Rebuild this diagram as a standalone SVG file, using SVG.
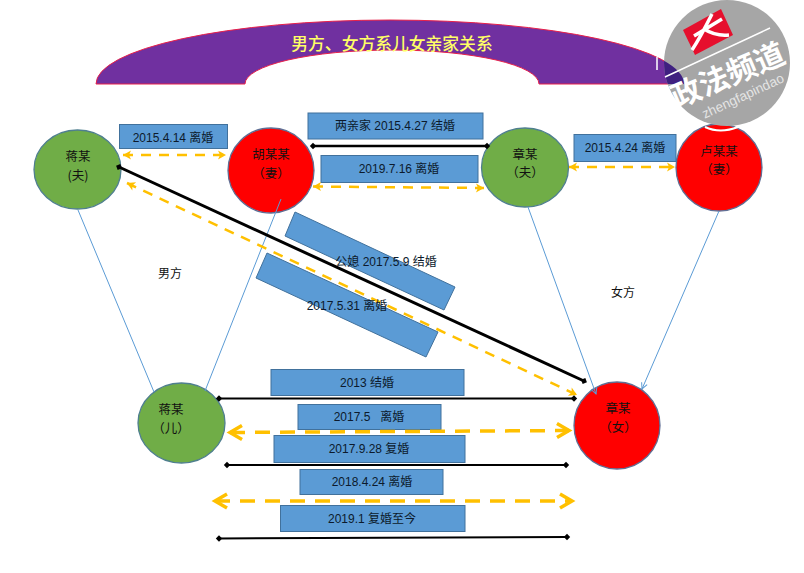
<svg xmlns="http://www.w3.org/2000/svg" width="804" height="573" viewBox="0 0 804 573">
<style>
text{font-family:"Liberation Sans","Noto Sans CJK SC",sans-serif;font-size:12px;fill:#0c1a2c;text-anchor:middle;dominant-baseline:central}
.cn{font-family:"Noto Sans CJK SC",sans-serif;font-size:12.500px;fill:#111}
.box{fill:#5b9bd5;stroke:#41719c;stroke-width:1}
.g{fill:#70ad47;stroke:#4f7f8f;stroke-width:1.3}
.r{fill:#ff0000;stroke:#5f6f95;stroke-width:1.3}
.k{stroke:#000;fill:none;marker-start:url(#dia);marker-end:url(#dia)}
.y{stroke:#ffc000;fill:none;stroke-width:2.500;stroke-dasharray:10 8;marker-start:url(#tri);marker-end:url(#tri)}
.o{stroke:#ffc000;fill:none;stroke-width:3.500;stroke-dasharray:15 10;marker-start:url(#open);marker-end:url(#open)}
.b{stroke:#5b9bd5;fill:none;stroke-width:1}
</style>
<defs>
<marker id="dia" viewBox="-5 -5 10 10" markerUnits="userSpaceOnUse" markerWidth="8" markerHeight="8" orient="auto"><path d="M-4 0 0-4 4 0 0 4Z" fill="#000"/></marker>
<marker id="tri" viewBox="-10 -6 12 12" markerUnits="userSpaceOnUse" markerWidth="12" markerHeight="12" orient="auto-start-reverse"><path d="M0 0-8-4.500-6 0-8 4.500Z" fill="#ffc000"/></marker>
<marker id="open" viewBox="-16 -10 20 20" markerUnits="userSpaceOnUse" markerWidth="20" markerHeight="20" orient="auto-start-reverse"><path d="M-12-7 0 0-12 7" fill="none" stroke="#ffc000" stroke-width="3.500"/></marker>
<marker id="ba" viewBox="-8 -5 10 10" markerUnits="userSpaceOnUse" markerWidth="10" markerHeight="10" orient="auto"><path d="M-6-3 0 0-6 3" fill="none" stroke="#5b9bd5" stroke-width="1"/></marker>
<clipPath id="lc"><circle cx="727" cy="63" r="63"/></clipPath>
</defs>

<g id="title">
<path id="arc" d="M96 84A294 64 0 0 1 684 84H539A147 34 0 0 0 245 84Z" fill="#7030a0" stroke="#e8204a" stroke-width="1"/>
<text x="392" y="43" style="font-family:'Noto Sans CJK SC',sans-serif;font-size:16.800px;font-weight:500;fill:#ffff66">男方、女方系儿女亲家关系</text>
</g>

<g id="node-jiang-fu"><ellipse class="g" cx="77.500" cy="169.500" rx="43.500" ry="39.500"/><text class="cn" x="78" y="155">蒋某</text><text class="cn" x="78" y="174">(夫)</text></g>
<g id="node-hu"><ellipse class="r" cx="271" cy="170.500" rx="43" ry="42.500"/><text class="cn" x="271" y="153">胡某某</text><text class="cn" x="271" y="172">（妻）</text></g>
<g id="node-zhang-fu"><ellipse class="g" cx="525" cy="167.500" rx="43.500" ry="39.500"/><text class="cn" x="525" y="153">章某</text><text class="cn" x="525" y="171">（夫）</text></g>
<g id="node-lu"><ellipse class="r" cx="719" cy="167.500" rx="43" ry="43.500"/><text class="cn" x="719" y="150">卢某某</text><text class="cn" x="719" y="168">（妻）</text></g>
<g id="node-jiang-er"><ellipse class="g" cx="181.500" cy="423" rx="43.500" ry="40"/><text class="cn" x="171" y="408">蒋某</text><text class="cn" x="171" y="427">（儿）</text></g>
<g id="node-zhang-nv"><ellipse class="r" cx="617" cy="425.500" rx="43" ry="43.500"/><text class="cn" x="618" y="407">章某</text><text class="cn" x="618" y="426">（女）</text></g>

<g id="labels">
<rect class="box" x="119.500" y="124.500" width="108" height="24"/>
<rect class="box" x="308" y="113" width="175" height="26"/>
<rect class="box" x="321" y="155.500" width="157" height="27"/>
<rect class="box" x="574" y="134.500" width="102" height="27"/>
<polygon class="box" points="295,212 455,287 444,310 285,236"/>
<polygon class="box" points="267,253 438,332 426,357 256,278"/>
<rect class="box" x="271" y="369.500" width="193" height="26"/>
<rect class="box" x="298" y="404.500" width="143" height="25"/>
<rect class="box" x="274" y="435.500" width="191" height="27"/>
<rect class="box" x="300" y="469.500" width="143" height="25"/>
<rect class="box" x="280.500" y="505.500" width="184.500" height="26"/>
</g>

<g id="connectors">
<path class="b" d="M78 210 154 392"/>
<path class="b" d="M281 199 205 391"/>
<path class="b" d="M528 207 596 394" marker-end="url(#ba)"/>
<path class="b" d="M719 211 642 389" marker-end="url(#ba)"/>
<path class="k" stroke-width="3" d="M119 167 584 381"/>
<path class="y" d="M127 183 577 395"/>
<path class="k" stroke-width="2.500" d="M313 146H487"/>
<path class="y" d="M123 155H226"/>
<path class="y" d="M313 186.500 484 188"/>
<path class="y" d="M569 167H675"/>
<path class="k" stroke-width="2" d="M219 398.500H574"/>
<path class="o" d="M230 432.500 569 430.500"/>
<path class="k" stroke-width="2" d="M227 465H566"/>
<path class="o" d="M215 501H572"/>
<path class="k" stroke-width="2" d="M219 538.500 567 537"/>
</g>

<g id="label-text">
<text x="173" y="138">2015.4.14 离婚</text>
<text x="395" y="126">两亲家 2015.4.27 结婚</text>
<text x="399" y="169">2019.7.16 离婚</text>
<text x="625" y="148">2015.4.24 离婚</text>
<text x="386" y="262">公媳 2017.5.9 结婚</text>
<text x="347" y="306">2017.5.31 离婚</text>
<text x="367" y="383">2013 结婚</text>
<text x="369" y="417" xml:space="preserve">2017.5   离婚</text>
<text x="369" y="449">2017.9.28 复婚</text>
<text x="372" y="482">2018.4.24 离婚</text>
<text x="372" y="519">2019.1 复婚至今</text>
<text class="cn" style="font-size:12px" x="170" y="272">男方</text>
<text class="cn" style="font-size:12px" x="623" y="291">女方</text>
</g>

<g id="logo">
<circle cx="727" cy="63" r="63" fill="#a6a6a6"/>
<path d="M96 84A294 64 0 0 1 684 84H539A147 34 0 0 0 245 84Z" fill="#3f2080" clip-path="url(#lc)"/>
<path d="M705 127Q720 134 738 127" fill="none" stroke="#fff" stroke-width="2"/>
<polygon points="683,30 721,9 733,35 695,55" fill="#e60f2d"/>
<path d="M712 14C706 26 700 38 692 50M694 36 722 19M704 29C712 34 720 36 729 35" fill="none" stroke="#fff" stroke-width="3.500"/>
<path d="M665 77 770 28M657 57V70" stroke="#fff" stroke-width="1.500" fill="none"/>
<text transform="translate(727 73) rotate(-23)" style="font-family:'Noto Sans CJK SC',sans-serif;font-size:30px;font-weight:700;fill:#fff">政法频道</text>
<text transform="translate(743 96) rotate(-25)" style="font-size:13.500px;fill:#e4e4e4">zhengfapindao</text>
</g>
</svg>
